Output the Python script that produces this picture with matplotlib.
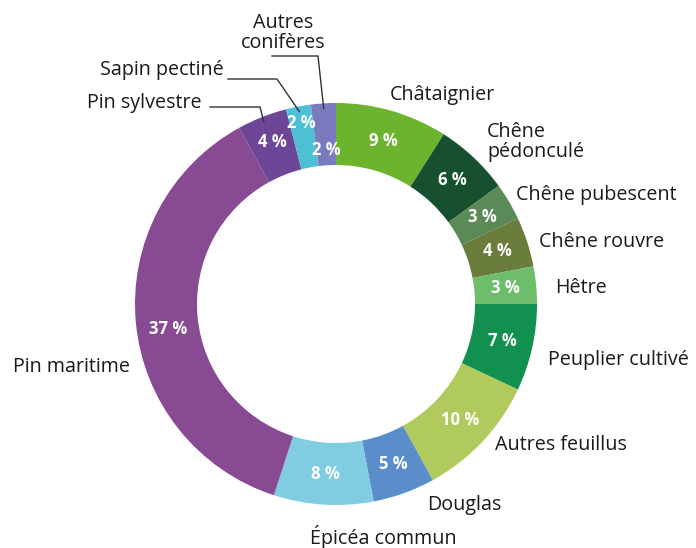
import numpy as np
import matplotlib.pyplot as plt

# surface share by species, clockwise from the top
species = ["Châtaignier", "Chêne\npédonculé", "Chêne pubescent", "Chêne rouvre",
           "Hêtre", "Peuplier cultivé", "Autres feuillus", "Douglas",
           "Épicéa commun", "Pin maritime", "Pin sylvestre", "Sapin pectiné",
           "Autres\nconifères"]
shares = [9, 6, 3, 4, 3, 7, 10, 5, 8, 37, 4, 2, 2]
colors = ["#6cb42d", "#16502f", "#5b8a56", "#6a7d3c", "#6dbd6b", "#11904f",
          "#b1ca5d", "#5a8ecb", "#80cce0", "#894a94", "#6e4697", "#4ec0d6",
          "#7a7bbf"]

plt.rcParams['font.family'] = ['Open Sans', 'DejaVu Sans']

fig = plt.figure(figsize=(6.96, 5.48), dpi=100)
ax = fig.add_axes([0, 0, 1, 1])

cx, cy, R, W = 336, 304, 201, 62
# y axis is flipped (pixel coords), so counterclock=True draws clockwise on screen
wedges, _, pcts = ax.pie(shares, colors=colors, startangle=-90, counterclock=True,
                         center=(cx, cy), radius=R,
                         wedgeprops=dict(width=W, linewidth=0),
                         autopct=lambda p: f"{round(p):d} %",
                         pctdistance=(R - W / 2) / R,
                         textprops=dict(color="white", fontsize=12, fontweight="bold"))

# the thin conifer slices get staggered labels (outer / inner)
for name, r in [("Sapin pectiné", 184), ("Autres\nconifères", 154), ("Pin sylvestre", 174)]:
    i = species.index(name)
    w = wedges[i]
    mid = np.radians((w.theta1 + w.theta2) / 2)
    pcts[i].set_position((cx + r * np.cos(mid), cy + r * np.sin(mid)))
pcts[species.index("Pin maritime")].set_position((168, 329))

ax.set_xlim(0, 696)
ax.set_ylim(548, 0)
ax.set_aspect('equal')
ax.axis('off')

txt = dict(fontsize=14.2, color="#1a1a1a")
# label placements (pixel coords)
place = {
    "Châtaignier": (442, 95, "center"),
    "Chêne\npédonculé": (487, 142, "left"),
    "Chêne pubescent": (516, 195, "left"),
    "Chêne rouvre": (539, 242, "left"),
    "Hêtre": (555, 288, "left"),
    "Peuplier cultivé": (548, 360, "left"),
    "Autres feuillus": (495, 445, "left"),
    "Douglas": (427, 505, "left"),
    "Épicéa commun": (383, 537, "center"),
    "Pin maritime": (13, 367, "left"),
    "Pin sylvestre": (87, 103, "left"),
    "Sapin pectiné": (100, 70, "left"),
    "Autres\nconifères": (283, 33, "center"),
}
for name in species:
    x, y, ha = place[name]
    ax.text(x, y, name, ha=ha, va="center", multialignment=ha,
            linespacing=1.05, **txt)

# leader lines for the three small conifer slices
leaders = {
    "Pin sylvestre": [(210, 107), (260, 107)],
    "Sapin pectiné": [(228, 79), (277, 79)],
    "Autres\nconifères": [(272, 56), (318, 56)],
}
for name, pts in leaders.items():
    w = wedges[species.index(name)]
    mid = np.radians((w.theta1 + w.theta2) / 2)
    ex, ey = cx + 0.975 * R * np.cos(mid), cy + 0.975 * R * np.sin(mid)
    xs = [p[0] for p in pts] + [ex]
    ys = [p[1] for p in pts] + [ey]
    ax.plot(xs, ys, color="#333333", lw=1)

fig.savefig("out.png", dpi=100)
